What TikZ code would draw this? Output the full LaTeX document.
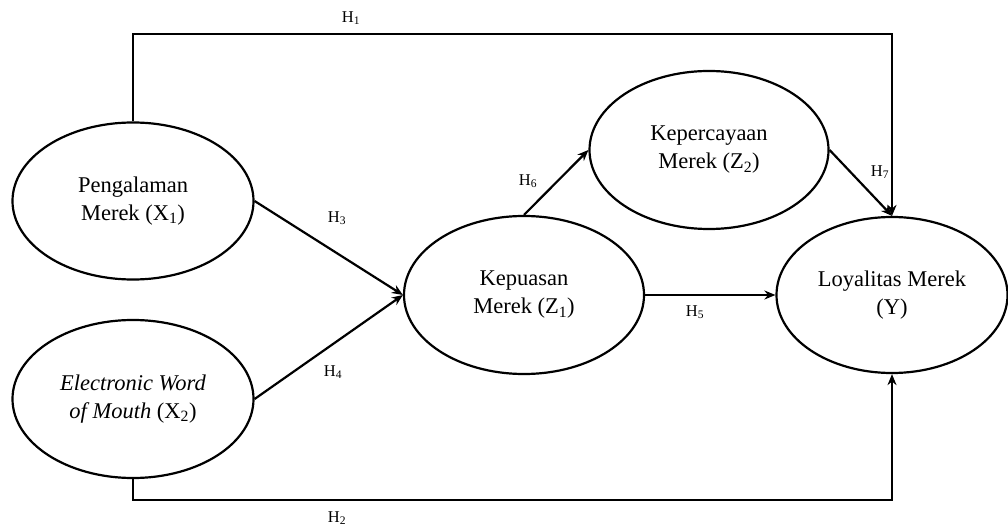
\documentclass[tikz,border=0pt]{standalone}
\usepackage{fontspec}
\setmainfont{Liberation Serif}
\usetikzlibrary{shapes.geometric,arrows.meta}

\tikzset{
  construct/.style={ellipse, draw, line width=2.2pt, inner sep=0pt, align=center,
    font=\fontsize{22.5}{28}\selectfont},
  link/.style={line width=2.2pt, -{Stealth[length=11pt,width=9pt]}},
  hyp/.style={font=\fontsize{16.5}{19}\selectfont, inner sep=0pt}
}

\begin{document}
\begin{tikzpicture}[x=1pt,y=-1pt]
  \useasboundingbox (0,0) rectangle (1008,526);

  % latent constructs
  \node[construct, minimum width=241pt, minimum height=157pt] (X1) at (133,201)
    {Pengalaman\\Merek (X\textsubscript{1})};
  \node[construct, minimum width=241pt, minimum height=158pt] (X2) at (133,399)
    {\textit{Electronic Word}\\\textit{of Mouth} (X\textsubscript{2})};
  \node[construct, minimum width=240pt, minimum height=158pt] (Z1) at (524,295)
    {Kepuasan\\Merek (Z\textsubscript{1})};
  \node[construct, minimum width=239pt, minimum height=158pt] (Z2) at (709,150)
    {Kepercayaan\\Merek (Z\textsubscript{2})};
  \node[construct, minimum width=231pt, minimum height=156pt] (Y) at (892,295)
    {Loyalitas Merek\\(Y)};

  % routing heights of the outer paths
  \coordinate (top) at (0,34);
  \coordinate (bot) at (0,500);

  % hypothesised paths
  \draw[link] (X1.north) -- (X1.north |- top) -| (Y.north);
  \draw[link] (X2.south) -- (X2.south |- bot) -| (Y.south);
  \draw[link] (X1.east) -- (Z1.west);
  \draw[link] (X2.east) -- (Z1.west);
  \draw[link] (Z1.east) -- (Y.west);
  \draw[link] (Z1.north) -- (Z2.west);
  \draw[link] (Z2.east) -- (Y.north);

  % path labels
  \node[hyp] (h1) at (351,18) {H\textsubscript{1}};
  \node[hyp] (h2) at (337,518) {H\textsubscript{2}};
  \node[hyp] (h3) at (337,218) {H\textsubscript{3}};
  \node[hyp] (h4) at (333,372) {H\textsubscript{4}};
  \node[hyp] (h5) at (695,312) {H\textsubscript{5}};
  \node[hyp] (h6) at (528,181) {H\textsubscript{6}};
  \node[hyp] (h7) at (880,172) {H\textsubscript{7}};
\end{tikzpicture}
\end{document}
